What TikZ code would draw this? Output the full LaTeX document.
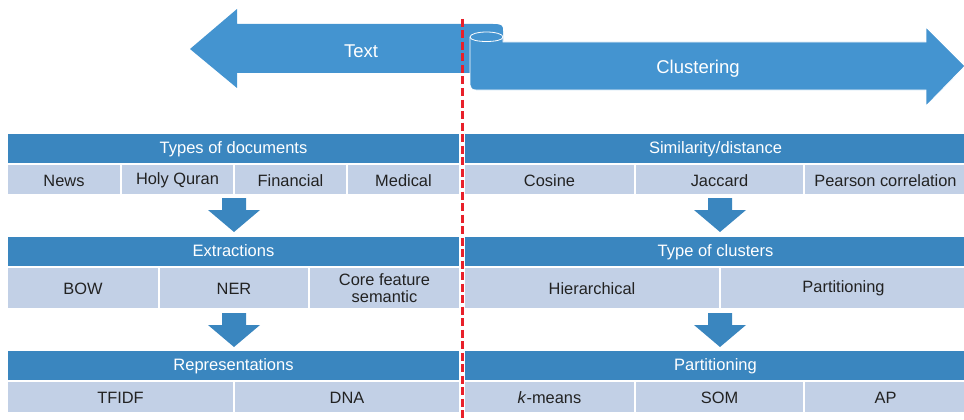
\documentclass[tikz,border=0pt]{standalone}
\usepackage{fontspec}
\setmainfont{Liberation Sans}
\definecolor{arrowblue}{HTML}{4494D0}
\definecolor{headblue}{HTML}{3A86BF}
\definecolor{cellblue}{HTML}{C2D0E6}
\definecolor{textdark}{HTML}{222222}
\definecolor{splitred}{HTML}{E8202A}
\tikzset{
  hdr/.style={fill=headblue, text=white, inner sep=0pt, minimum height=29pt,
    text height=10pt, text depth=0pt, font=\fontsize{16.5}{19}\selectfont},
  cellbase/.style={fill=cellblue, text=textdark, inner sep=0pt, align=center,
    font=\fontsize{16.4}{17}\selectfont},
  cell/.style={cellbase, text height=13pt, text depth=0pt},
  bigtext/.style={text=white, inner sep=0pt, font=\fontsize{18.5}{22}\selectfont},
  splitline/.style={draw=splitred, line width=3.5pt, dash pattern=on 8pt off 3.5pt},
  blockdown/.pic={\fill[headblue] (-12,0) -- (12,0) -- (12,12) -- (26,12) -- (0,34)
     -- (-26,12) -- (-12,12) -- cycle;}
}
\begin{document}
\begin{tikzpicture}[x=1pt,y=-1pt]
\useasboundingbox (0,0) rectangle (964,420);

% "Text" arrow pointing left, rounded end hidden behind the scroll
\fill[arrowblue] (190,49) -- (237,9) -- (237,24) -- (493,24)
  .. controls (503,24) and (503,26) .. (503,31) -- (503,73) -- (237,73)
  -- (237,88) -- cycle;
\node[bigtext] (textlbl) at (361,51) {Text};

% "Clustering" arrow pointing right, starting with a rolled scroll
\filldraw[fill=arrowblue, draw=white, line width=0.8pt]
  (470,37) .. controls (470,34) and (478,32) .. (486.5,32)
  .. controls (495,32) and (503,34) .. (503,37) -- (503,42) -- (926,42)
  -- (926,27) -- (965,66) -- (926,106) -- (926,90) -- (476,90)
  .. controls (472,90) and (470,88) .. (470,85) -- cycle;
\draw[white, line width=0.8pt] (470,37) .. controls (470,40) and (478,41.5) .. (486.5,41.5)
  .. controls (495,41.5) and (503,40) .. (503,37);
\node[bigtext] (clulbl) at (698,69) {Clustering};

% Left column: text processing
\node[hdr, minimum width=451pt] (typedoc) at (233.5,148.5) {Types of documents};
\node[cell, minimum width=112pt, minimum height=29pt] (news) at (64,179.5) {News};
\node[cell, minimum width=111pt, minimum height=29pt] (quran) at (177.5,179.5) {\raisebox{2pt}{Holy Quran}};
\node[cell, minimum width=111pt, minimum height=29pt] (fin) at (290.5,179.5) {Financial};
\node[cell, minimum width=111pt, minimum height=29pt] (med) at (403.5,179.5) {Medical};

\pic at (234,198) {blockdown};

\node[hdr, minimum width=451pt] (extr) at (233.5,251.5) {Extractions};
\node[cell, minimum width=150pt, minimum height=40pt] (bow) at (83,288) {BOW};
\node[cell, minimum width=148pt, minimum height=40pt] (ner) at (234,288) {NER};
\node[cellbase, minimum width=149pt, minimum height=40pt] (core) at (384.5,288) {Core feature\\semantic};

\pic at (234,313) {blockdown};

\node[hdr, minimum width=451pt] (repr) at (233.5,365.5) {Representations};
\node[cell, minimum width=225pt, minimum height=30pt] (tfidf) at (120.5,397) {TFIDF};
\node[cell, minimum width=224pt, minimum height=30pt] (dna) at (347,397) {DNA};

% Right column: clustering
\node[hdr, minimum width=501pt] (simdist) at (715.5,148.5) {Similarity/distance};
\node[cell, minimum width=169pt, minimum height=29pt] (cosine) at (549.5,179.5) {Cosine};
\node[cell, minimum width=167pt, minimum height=29pt] (jacc) at (719.5,179.5) {Jaccard};
\node[cell, minimum width=161pt, minimum height=29pt] (pears) at (885.5,179.5) {Pearson correlation};

\pic at (720,198) {blockdown};

\node[hdr, minimum width=501pt] (typeclu) at (715.5,251.5) {Type of clusters};
\node[cell, minimum width=254pt, minimum height=40pt] (hier) at (592,288) {Hierarchical};
\node[cell, minimum width=245pt, minimum height=40pt] (partc) at (843.5,288) {\raisebox{2pt}{Partitioning}};

\pic at (720,313) {blockdown};

\node[hdr, minimum width=501pt] (parth) at (715.5,365.5) {Partitioning};
\node[cell, minimum width=169pt, minimum height=30pt] (kmeans) at (549.5,397) {\textit{k}-means};
\node[cell, minimum width=167pt, minimum height=30pt] (som) at (719.5,397) {SOM};
\node[cell, minimum width=161pt, minimum height=30pt] (ap) at (885.5,397) {AP};

% Red dashed divider between the two halves
\coordinate (divtop) at (462.5,19);
\coordinate (divbot) at (462.5,421);
\draw[splitline] (divtop) -- (divbot);
\end{tikzpicture}
\end{document}
